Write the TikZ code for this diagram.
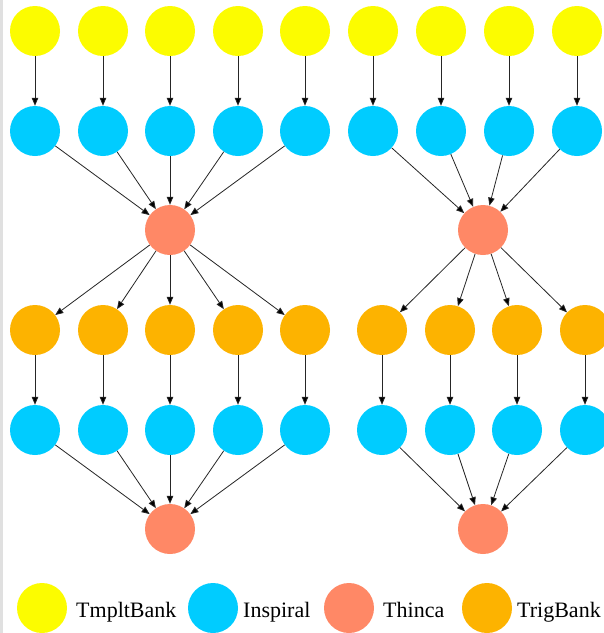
\documentclass[tikz,border=0pt]{standalone}
\usepackage{fontspec}
\setmainfont{Liberation Serif}
\usetikzlibrary{arrows.meta}

\definecolor{tmpltcol}{HTML}{FCFC00}
\definecolor{inspcol}{HTML}{00CCFF}
\definecolor{thincacol}{HTML}{FF8866}
\definecolor{trigcol}{HTML}{FDB300}

\tikzset{
	job/.style={shape=circle, minimum size=50pt, inner sep=0pt},
	tmplt/.style={job, fill=tmpltcol},
	insp/.style={job, fill=inspcol},
	thinca/.style={job, fill=thincacol},
	trig/.style={job, fill=trigcol},
	keytext/.style={anchor=base west, inner sep=0pt, font=\fontsize{22}{26}\selectfont},
	dep/.style={-{Triangle[length=8pt,width=6.5pt]}, line width=0.8pt, draw=black!85}
}

\begin{document}
\begin{tikzpicture}[x=1pt, y=-1pt]

	\useasboundingbox (0, 0) rectangle (604, 633);
	\fill[white] (0, 0) rectangle (604, 633);
	\fill[black!12] (0, 0) rectangle (2.5, 633);

	% left workflow
	\node[tmplt] (tmplt1) at (35, 31) {};
	\node[tmplt] (tmplt2) at (103, 31) {};
	\node[tmplt] (tmplt3) at (170, 31) {};
	\node[tmplt] (tmplt4) at (238, 31) {};
	\node[tmplt] (tmplt5) at (305, 31) {};
	\node[insp] (insp1) at (35, 131) {};
	\node[insp] (insp2) at (103, 131) {};
	\node[insp] (insp3) at (170, 131) {};
	\node[insp] (insp4) at (238, 131) {};
	\node[insp] (insp5) at (305, 131) {};
	\node[thinca] (thinca1) at (170, 230) {};
	\node[trig] (trig1) at (35, 330) {};
	\node[trig] (trig2) at (103, 330) {};
	\node[trig] (trig3) at (170, 330) {};
	\node[trig] (trig4) at (238, 330) {};
	\node[trig] (trig5) at (305, 330) {};
	\node[insp] (inspb1) at (35, 430) {};
	\node[insp] (inspb2) at (103, 430) {};
	\node[insp] (inspb3) at (170, 430) {};
	\node[insp] (inspb4) at (238, 430) {};
	\node[insp] (inspb5) at (305, 430) {};
	\node[thinca] (thincab1) at (170, 529) {};

	% right workflow
	\node[tmplt] (tmplt6) at (373, 31) {};
	\node[tmplt] (tmplt7) at (441, 31) {};
	\node[tmplt] (tmplt8) at (509, 31) {};
	\node[tmplt] (tmplt9) at (577, 31) {};
	\node[insp] (insp6) at (373, 131) {};
	\node[insp] (insp7) at (441, 131) {};
	\node[insp] (insp8) at (509, 131) {};
	\node[insp] (insp9) at (577, 131) {};
	\node[thinca] (thinca2) at (483, 230) {};
	\node[trig] (trig6) at (382, 330) {};
	\node[trig] (trig7) at (450, 330) {};
	\node[trig] (trig8) at (517, 330) {};
	\node[trig] (trig9) at (585, 330) {};
	\node[insp] (inspb6) at (382, 430) {};
	\node[insp] (inspb7) at (450, 430) {};
	\node[insp] (inspb8) at (517, 430) {};
	\node[insp] (inspb9) at (585, 430) {};
	\node[thinca] (thincab2) at (483, 529) {};

	\path[dep] (tmplt1) edge (insp1);
	\path[dep] (tmplt2) edge (insp2);
	\path[dep] (tmplt3) edge (insp3);
	\path[dep] (tmplt4) edge (insp4);
	\path[dep] (tmplt5) edge (insp5);
	\path[dep] (tmplt6) edge (insp6);
	\path[dep] (tmplt7) edge (insp7);
	\path[dep] (tmplt8) edge (insp8);
	\path[dep] (tmplt9) edge (insp9);

	\path[dep] (insp1) edge (thinca1);
	\path[dep] (insp2) edge (thinca1);
	\path[dep] (insp3) edge (thinca1);
	\path[dep] (insp4) edge (thinca1);
	\path[dep] (insp5) edge (thinca1);
	\path[dep] (insp6) edge (thinca2);
	\path[dep] (insp7) edge (thinca2);
	\path[dep] (insp8) edge (thinca2);
	\path[dep] (insp9) edge (thinca2);

	\path[dep] (thinca1) edge (trig1);
	\path[dep] (thinca1) edge (trig2);
	\path[dep] (thinca1) edge (trig3);
	\path[dep] (thinca1) edge (trig4);
	\path[dep] (thinca1) edge (trig5);
	\path[dep] (thinca2) edge (trig6);
	\path[dep] (thinca2) edge (trig7);
	\path[dep] (thinca2) edge (trig8);
	\path[dep] (thinca2) edge (trig9);

	\path[dep] (trig1) edge (inspb1);
	\path[dep] (trig2) edge (inspb2);
	\path[dep] (trig3) edge (inspb3);
	\path[dep] (trig4) edge (inspb4);
	\path[dep] (trig5) edge (inspb5);
	\path[dep] (trig6) edge (inspb6);
	\path[dep] (trig7) edge (inspb7);
	\path[dep] (trig8) edge (inspb8);
	\path[dep] (trig9) edge (inspb9);

	\path[dep] (inspb1) edge (thincab1);
	\path[dep] (inspb2) edge (thincab1);
	\path[dep] (inspb3) edge (thincab1);
	\path[dep] (inspb4) edge (thincab1);
	\path[dep] (inspb5) edge (thincab1);
	\path[dep] (inspb6) edge (thincab2);
	\path[dep] (inspb7) edge (thincab2);
	\path[dep] (inspb8) edge (thincab2);
	\path[dep] (inspb9) edge (thincab2);

	% legend
	\node[tmplt] (keytmplt) at (42, 608) {};
	\node[insp] (keyinsp) at (213, 608) {};
	\node[thinca] (keythinca) at (349, 608) {};
	\node[trig] (keytrig) at (487, 608) {};
	\node[keytext] (labtmplt) at (76, 617) {TmpltBank};
	\node[keytext] (labinsp) at (243, 617) {Inspiral};
	\node[keytext] (labthinca) at (383, 617) {Thinca};
	\node[keytext] (labtrig) at (517, 617) {TrigBank};

\end{tikzpicture}
\end{document}
